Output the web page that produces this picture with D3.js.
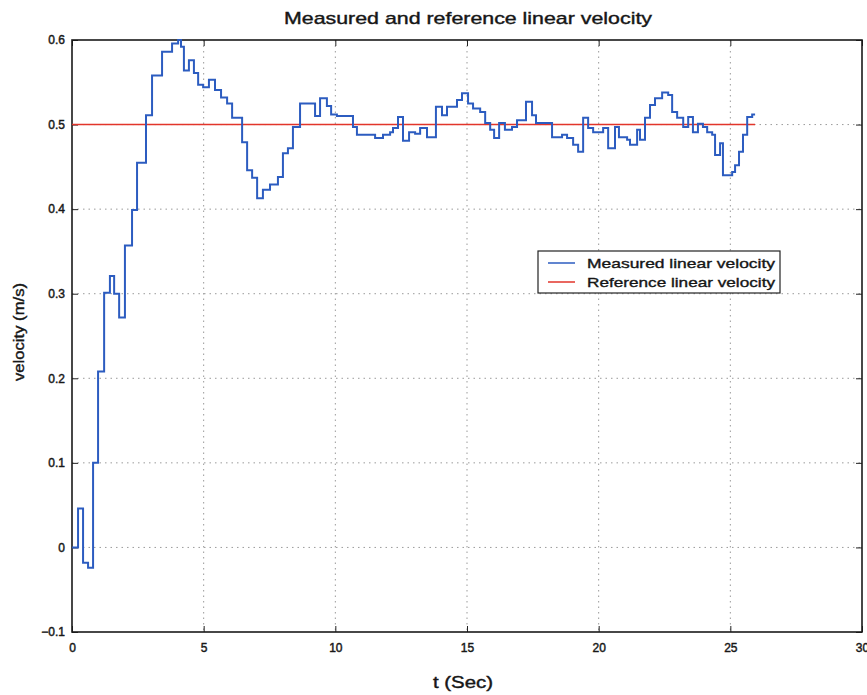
<!DOCTYPE html>
<html>
<head>
<meta charset="utf-8">
<script src="https://cdn.jsdelivr.net/npm/d3@7"></script>
<style>
  html, body { margin: 0; padding: 0; background: #ffffff; }
  svg text { font-family: "Liberation Sans", Arial, Helvetica, sans-serif; fill: #161616; }
</style>
</head>
<body>
<svg id="chart" width="867" height="695"></svg>
<script>
// ---- data ----
const title = "Measured and reference linear velocity";
const xLabel = "t (Sec)";
const yLabel = "velocity (m/s)";
const xTicks = [0, 5, 10, 15, 20, 25, 30];
const yTicks = [-0.1, 0, 0.1, 0.2, 0.3, 0.4, 0.5, 0.6];
const seriesNames = ["Measured linear velocity", "Reference linear velocity"];

// measured: stepwise samples (time, value) - value holds until next time
const measuredT = [0, 0.23, 0.42, 0.61, 0.80, 0.99, 1.22, 1.44, 1.60, 1.79, 2.01, 2.28, 2.47, 2.81, 3.04, 3.42, 3.80, 4.03, 4.14, 4.25,
  4.44, 4.63, 4.79, 4.98, 5.20, 5.43, 5.66, 5.89, 6.08, 6.46, 6.65, 6.84, 7.03, 7.25, 7.52, 7.82, 8.01, 8.20, 8.39, 8.66,
  9.23, 9.42, 9.68, 9.84, 10.06, 10.67, 10.82, 11.51, 11.81, 12.08, 12.19, 12.38, 12.57, 12.80, 13.03, 13.22, 13.48, 13.82, 14.05, 14.24,
  14.62, 14.81, 15.04, 15.23, 15.50, 15.69, 15.88, 16.03, 16.22, 16.44, 16.71, 16.90, 17.24, 17.47, 17.62, 18.23, 18.61, 18.80, 19.03, 19.22,
  19.41, 19.60, 19.79, 20.17, 20.36, 20.62, 20.77, 21.08, 21.19, 21.46, 21.57, 21.76, 21.95, 22.14, 22.41, 22.64, 22.79, 22.98, 23.21, 23.40,
  23.58, 23.77, 23.96, 24.12, 24.31, 24.42, 24.61, 24.72, 25.07, 25.18, 25.33, 25.48, 25.64, 25.83, 25.94];
const measuredV = [0, 0.046, -0.018, -0.024, 0.100, 0.208, 0.301, 0.321, 0.300, 0.272, 0.357, 0.399, 0.455, 0.511, 0.558, 0.586, 0.596, 0.600, 0.592, 0.564,
  0.576, 0.561, 0.547, 0.544, 0.553, 0.541, 0.532, 0.525, 0.508, 0.479, 0.446, 0.437, 0.413, 0.423, 0.429, 0.438, 0.466, 0.472, 0.497, 0.525,
  0.510, 0.531, 0.522, 0.512, 0.510, 0.497, 0.488, 0.484, 0.488, 0.491, 0.496, 0.509, 0.481, 0.491, 0.489, 0.496, 0.485, 0.521, 0.511, 0.521,
  0.529, 0.537, 0.525, 0.519, 0.515, 0.502, 0.494, 0.484, 0.502, 0.494, 0.497, 0.505, 0.527, 0.511, 0.502, 0.485, 0.488, 0.484, 0.476, 0.468,
  0.508, 0.496, 0.491, 0.496, 0.472, 0.497, 0.485, 0.482, 0.476, 0.494, 0.482, 0.508, 0.523, 0.531, 0.538, 0.535, 0.515, 0.508, 0.497, 0.509,
  0.491, 0.501, 0.497, 0.491, 0.488, 0.464, 0.478, 0.440, 0.444, 0.452, 0.468, 0.488, 0.509, 0.512, 0.512];

const referenceT = [0, 25.94];
const referenceV = [0.5, 0.5];

const seriesColors = ["#2c5cc0", "#e2352b"];

// ---- layout ----
const W = 867, H = 695;
const margin = { top: 40, right: 5, bottom: 63, left: 72 };
const iw = W - margin.left - margin.right;
const ih = H - margin.top - margin.bottom;

const svg = d3.select("#chart");
const g = svg.append("g").attr("transform", `translate(${margin.left},${margin.top})`);

const x = d3.scaleLinear().domain([0, 30]).range([0, iw]);
const y = d3.scaleLinear().domain([-0.1, 0.6]).range([ih, 0]);

// grid
g.append("g").selectAll("line").data(xTicks.slice(1, -1)).join("line")
  .attr("x1", d => x(d)).attr("x2", d => x(d)).attr("y1", 0).attr("y2", ih)
  .attr("stroke", "#9a9a9a").attr("stroke-width", 1).attr("stroke-dasharray", "1.5,4");
g.append("g").selectAll("line").data(yTicks.slice(1, -1)).join("line")
  .attr("y1", d => y(d)).attr("y2", d => y(d)).attr("x1", 0).attr("x2", iw)
  .attr("stroke", "#9a9a9a").attr("stroke-width", 1).attr("stroke-dasharray", "1.5,4");

// axes (ticks inward)
const fmtY = d => (d < 0 ? "\u22120.1" : (d === 0 ? "0" : d3.format(".1f")(d)));
g.append("g").attr("transform", `translate(0,${ih})`)
  .call(d3.axisBottom(x).tickValues(xTicks).tickSize(-6).tickPadding(11).tickFormat(d3.format("d")));
g.append("g")
  .call(d3.axisLeft(y).tickValues(yTicks).tickSize(-6).tickPadding(7).tickFormat(fmtY));
g.append("g")
  .call(d3.axisTop(x).tickValues(xTicks).tickSize(-6).tickFormat(""));
g.append("g").attr("transform", `translate(${iw},0)`)
  .call(d3.axisRight(y).tickValues(yTicks).tickSize(-6).tickFormat(""));
g.selectAll(".domain").remove();
g.selectAll(".tick line").attr("stroke", "#222");
g.selectAll(".tick text").attr("font-size", 12).attr("fill", "#1a1a1a")
  .attr("stroke", "#1a1a1a").attr("stroke-width", 0.45);

// frame
g.append("rect").attr("x", 0).attr("y", 0).attr("width", iw).attr("height", ih)
  .attr("fill", "none").attr("stroke", "#1a1a1a").attr("stroke-width", 1.6);

// lines
const measured = measuredT.map((t, i) => ({ t, v: measuredV[i] }));
const reference = referenceT.map((t, i) => ({ t, v: referenceV[i] }));
const stepLine = d3.line().x(d => x(d.t)).y(d => y(d.v)).curve(d3.curveStepAfter);
const plainLine = d3.line().x(d => x(d.t)).y(d => y(d.v));

g.append("path").datum(reference).attr("d", plainLine)
  .attr("fill", "none").attr("stroke", seriesColors[1]).attr("stroke-width", 1.6);
g.append("path").datum(measured).attr("d", stepLine)
  .attr("fill", "none").attr("stroke", seriesColors[0]).attr("stroke-width", 2)
  .attr("stroke-linejoin", "miter");

// legend
const lg = svg.append("g").attr("transform", "translate(538,251)");
lg.append("rect").attr("x", 0).attr("y", 0).attr("width", 242).attr("height", 42)
  .attr("fill", "#fff").attr("stroke", "#222").attr("stroke-width", 1.2);
seriesNames.forEach((name, i) => {
  const yy = 12 + i * 19;
  lg.append("line").attr("x1", 10).attr("x2", 37).attr("y1", yy).attr("y2", yy)
    .attr("stroke", seriesColors[i]).attr("stroke-width", 1.5);
  lg.append("text").attr("x", 49).attr("y", yy + 4.5).attr("font-size", 13)
    .attr("stroke", "#161616").attr("stroke-width", 0.35)
    .attr("textLength", 188).attr("lengthAdjust", "spacingAndGlyphs").text(name);
});

// title & labels
svg.append("text").attr("x", 468).attr("y", 24).attr("text-anchor", "middle")
  .attr("font-size", 17).attr("stroke", "#161616").attr("stroke-width", 0.4)
  .attr("textLength", 368).attr("lengthAdjust", "spacingAndGlyphs").text(title);
svg.append("text").attr("x", 463).attr("y", 688).attr("text-anchor", "middle")
  .attr("font-size", 16).attr("stroke", "#161616").attr("stroke-width", 0.4)
  .attr("textLength", 60).attr("lengthAdjust", "spacingAndGlyphs").text(xLabel);
svg.append("text").attr("transform", `translate(24,${margin.top + ih / 2 - 4}) rotate(-90)`)
  .attr("text-anchor", "middle").attr("font-size", 15).attr("stroke", "#161616").attr("stroke-width", 0.4)
  .attr("textLength", 98).attr("lengthAdjust", "spacingAndGlyphs").text(yLabel);
</script>
</body>
</html>
